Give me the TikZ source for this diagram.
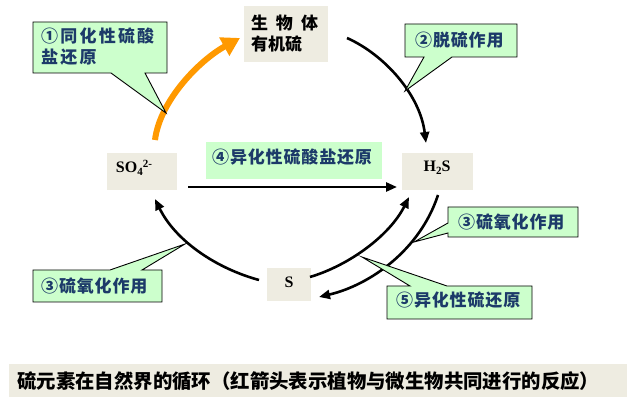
\documentclass[tikz,border=0pt]{standalone}
\usepackage{fontspec}
\setmainfont{Liberation Serif}
\newfontfamily\cjk{Noto Sans CJK SC}
\newfontfamily\cjkl{Noto Sans CJK SC}[LetterSpace=5]
\newfontfamily\cjksp{Noto Sans CJK SC}[LetterSpace=13]
\usetikzlibrary{arrows.meta}
\definecolor{beige}{RGB}{238,236,225}
\definecolor{callg}{RGB}{204,255,204}
\definecolor{lblue}{RGB}{28,58,105}
\definecolor{orng}{RGB}{255,153,0}
\begin{document}
\begin{tikzpicture}[x=1pt,y=-1pt,
  box/.style={fill=beige, inner sep=0pt},
  lbl/.style={font=\cjkl\bfseries\fontsize{17}{21}\selectfont, text=lblue, inner sep=0pt, anchor=west},
  call/.style={draw=black, line width=0.9pt, fill=callg, line join=miter},
  arr/.style={line width=2.6pt, -{Triangle[length=11pt,width=9pt]}},
  chem/.style={font=\bfseries\fontsize{16}{16}\selectfont, inner sep=0pt}
]
\useasboundingbox (0,0) rectangle (634,411);

% boxes
\node[box, minimum width=84pt, minimum height=56pt, text width=70pt, align=left, inner xsep=7pt,
      font=\cjk\bfseries\fontsize{17}{21}\selectfont] (org) at (286,34) {生\hspace{8pt}物\hspace{8pt}体\\有机硫};
\node[box, minimum width=70pt, minimum height=37pt] (so) at (142,171.5) {};
\node[chem] (sot) at (134,168) {SO\raisebox{-3pt}{\fontsize{11}{11}\selectfont 4}\raisebox{5pt}{\fontsize{11}{11}\selectfont 2-}};
\node[box, minimum width=71pt, minimum height=37pt] (hs) at (437.5,171.5) {};
\node[chem] (hst) at (437,168) {H\raisebox{-3pt}{\fontsize{11}{11}\selectfont 2}S};
\node[box, minimum width=44pt, minimum height=33pt] (s) at (289,284.5) {};
\node[chem] (st) at (289,282) {S};

% connector end points
\coordinate (o1) at (155,140);  \coordinate (o2) at (240,38);
\coordinate (d1) at (347,38);   \coordinate (d2) at (426,143);
\coordinate (h1) at (188,187);  \coordinate (h2) at (397,187);
\coordinate (a1) at (259,280);  \coordinate (a2) at (155,199);
\coordinate (b1) at (310,277);  \coordinate (b2) at (409,197);
\coordinate (c1) at (438,195);  \coordinate (c2) at (319,297);

% arrows
\draw[line width=6pt, orng, -{Triangle[length=18pt,width=20pt]}] (o1) .. controls (160,100) and (200,60) .. (o2);
\draw[arr] (d1) .. controls (385,55) and (420,95) .. (d2);
\draw[arr] (h1) -- (h2);
\draw[arr] (a1) .. controls (215,268) and (175,240) .. (a2);
\draw[arr] (b1) .. controls (350,265) and (390,235) .. (b2);
\draw[arr] (c1) .. controls (420,250) and (370,285) .. (c2);

% callouts
\draw[call] (33,22)--(167,22)--(167,73)--(145,73)--(166,113)--(111,73)--(33,73)--cycle;
\node[lbl, align=left, font=\cjksp\bfseries\fontsize{17}{21}\selectfont] (l1) at (41,47) {①同化性硫酸\\盐还原};
\draw[call] (405,24)--(517,24)--(517,57)--(452,57)--(405,91)--(424,57)--(405,57)--cycle;
\node[lbl] (l2) at (415,40) {②脱硫作用};
\draw[call] (448,207)--(578,207)--(578,237)--(448,237)--(448,233)--(414,242)--(448,223)--cycle;
\node[lbl] (l3r) at (458,222) {③硫氧化作用};
\draw[call] (33,270)--(110,270)--(185,244)--(142,270)--(162,270)--(162,302)--(33,302)--cycle;
\node[lbl] (l3l) at (41,286) {③硫氧化作用};
\node[fill=callg, minimum width=176pt, minimum height=37pt, inner sep=0pt] (l4box) at (294,160.5) {};
\node[lbl] (l4) at (212,157) {④异化性硫酸盐还原};
\draw[call] (387,286)--(410,286)--(362,257)--(447,286)--(532,286)--(532,319)--(387,319)--cycle;
\node[lbl] (l5) at (396,300) {⑤异化性硫还原};

% caption
\node[box, minimum width=618pt, minimum height=33pt] (capbox) at (318,380.5) {};
\node[font=\cjk\bfseries\fontsize{19.4}{22}\selectfont, inner sep=0pt, anchor=west] (cap) at (17,381)
  {硫元素在自然界的循环（红箭头表示植物与微生物共同进行的反应）};
\end{tikzpicture}
\end{document}
